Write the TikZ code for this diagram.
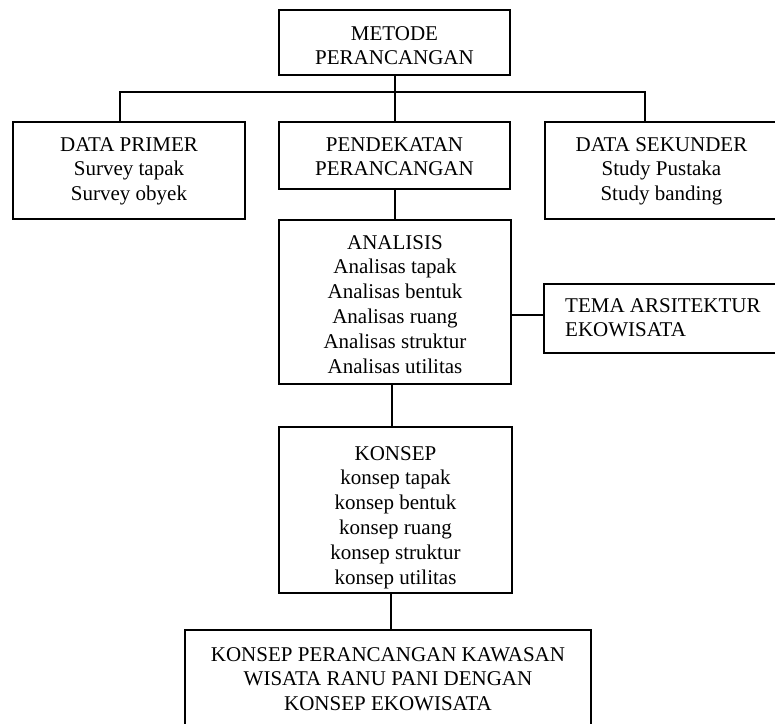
\documentclass[tikz,border=0pt]{standalone}
\usepackage{fontspec}
\setmainfont{Liberation Serif}
\tikzset{
  box/.style={draw, line width=2pt, rectangle, inner sep=0pt, anchor=north west},
  txt/.style={inner sep=0pt, align=center, font=\fontsize{21}{24.8}\selectfont},
  txtl/.style={inner sep=0pt, align=left, font=\fontsize{21}{24.8}\selectfont},
  conn/.style={line width=2pt}
}
\begin{document}
\begin{tikzpicture}[x=1pt,y=1pt]
\clip (0,0) rectangle (775,-723);
\fill[white] (0,0) rectangle (775,-723);
% boxes
\node[box, minimum width=231pt, minimum height=65pt] (metode) at (278,-9) {};
\node[box, minimum width=232pt, minimum height=97pt] (primer) at (12,-121) {};
\node[box, minimum width=231pt, minimum height=67pt] (pendekatan) at (278,-121) {};
\node[box, minimum width=233pt, minimum height=97pt] (sekunder) at (544,-121) {};
\node[box, minimum width=232pt, minimum height=164pt] (analisis) at (278,-219) {};
\node[box, minimum width=240pt, minimum height=69pt] (tema) at (543,-283) {};
\node[box, minimum width=233pt, minimum height=166pt] (konsep) at (278,-426) {};
\node[box, minimum width=406pt, minimum height=120pt] (final) at (184,-629) {};
% texts
\node[txt, anchor=north] (tmetode) at ([yshift=-17pt]metode.north) {METODE\\PERANCANGAN};
\node[txt, anchor=north] (tprimer) at ([yshift=-16pt]primer.north) {DATA PRIMER\\Survey tapak\\Survey obyek};
\node[txt, anchor=north] (tpendekatan) at ([yshift=-16pt]pendekatan.north) {PENDEKATAN\\PERANCANGAN};
\node[txt, anchor=north] (tsekunder) at ([yshift=-16pt]sekunder.north) {DATA SEKUNDER\\Study Pustaka\\Study banding};
\node[txt, anchor=north] (tanalisis) at ([yshift=-16pt]analisis.north) {ANALISIS\\Analisas tapak\\Analisas bentuk\\Analisas ruang\\Analisas struktur\\Analisas utilitas};
\node[txtl, anchor=north west] (ttema) at (565,-298) {TEMA ARSITEKTUR\\EKOWISATA};
\node[txt, anchor=north] (tkonsep) at ([yshift=-20pt]konsep.north) {KONSEP\\konsep tapak\\konsep bentuk\\konsep ruang\\konsep struktur\\konsep utilitas};
\node[txt, anchor=north] (tfinal) at ([yshift=-18pt]final.north) {KONSEP PERANCANGAN KAWASAN\\WISATA RANU PANI DENGAN\\KONSEP EKOWISATA};
% connectors
\coordinate (hl) at (120,-92);
\coordinate (hr) at (645,-92);
\draw[conn] (metode.south) -- (pendekatan.north);
\draw[conn] (hl |- primer.north) -- (hl) -- (hr) -- (hr |- sekunder.north);
\draw[conn] (pendekatan.south) -- (analisis.north -| pendekatan.south);
\draw[conn] (analisis.east |- 0,-315) -- (tema.west |- 0,-315);
\draw[conn] (konsep.north -| 392,0) -- (analisis.south -| 392,0);
\draw[conn] (final.north -| 391,0) -- (konsep.south -| 391,0);
\end{tikzpicture}
\end{document}
